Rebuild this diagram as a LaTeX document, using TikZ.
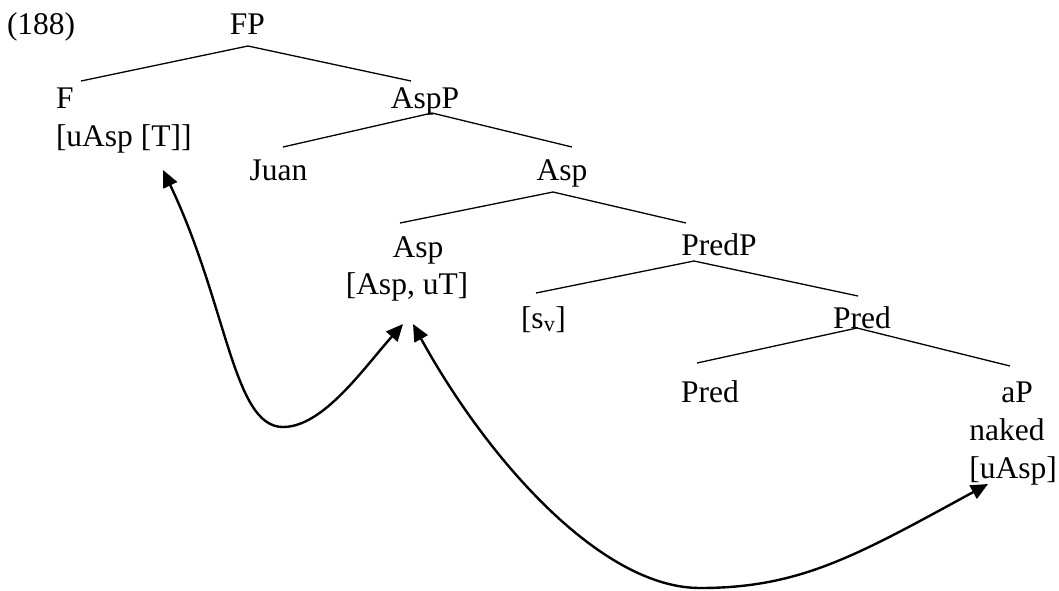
\documentclass[tikz,border=0pt]{standalone}
\usepackage{fontspec}
\setmainfont{Liberation Serif}
\usetikzlibrary{arrows.meta}
\begin{document}
\begin{tikzpicture}[x=1pt,y=-1pt,
  lbl/.style={inner sep=0pt, outer sep=0pt, anchor=base, font=\fontsize{31.5}{38}\selectfont},
  branch/.style={line width=1.3pt},
  move/.style={line width=2.4pt, {Triangle[length=17pt,width=15pt]}-{Triangle[length=17pt,width=15pt]}}]
\useasboundingbox (0,0) rectangle (1059,590);
% labels
\node[lbl, anchor=base west] (ex) at (7,34) {(188)};
\node[lbl] (FP) at (247.5,34) {FP};
\node[lbl, anchor=base west] (F) at (56,108) {F};
\node[lbl, anchor=base west] (Ff) at (56,146) {[uAsp [T]]};
\node[lbl] (AspP) at (425,108) {AspP};
\node[lbl] (Juan) at (278.5,180) {Juan};
\node[lbl] (Aspbar) at (562,180) {Asp};
\node[lbl] (Asp) at (418,257) {Asp};
\node[lbl] (Aspf) at (407,294) {[Asp, uT]};
\node[lbl] (PredP) at (719,255) {PredP};
\node[lbl, anchor=base west] (sv) at (521,328) {[s\textsubscript{v}]};
\node[lbl] (Predbar) at (862,328) {Pred};
\node[lbl] (Pred) at (710,402) {Pred};
\node[lbl] (aP) at (1017,402) {aP};
\node[lbl] (naked) at (1007,440) {naked};
\node[lbl] (aPf) at (1013,478) {[uAsp]};
% branch points
\coordinate (FPb) at (248,46);
\coordinate (Ft) at (81,81);
\coordinate (AspPt) at (411,81);
\coordinate (AspPb) at (432,113);
\coordinate (Juant) at (283,147);
\coordinate (Aspbart) at (572,147);
\coordinate (Aspbarb) at (553,192);
\coordinate (Aspt) at (400,223);
\coordinate (PredPt) at (686,223);
\coordinate (PredPb) at (694,261);
\coordinate (svt) at (536,293);
\coordinate (Predbart) at (858,296);
\coordinate (Predbarb) at (857,328);
\coordinate (Predt) at (697,363);
\coordinate (aPt) at (1010,366);
% arrow ends
\coordinate (Fend) at (163,170);
\coordinate (AspendL) at (403,324);
\coordinate (AspendR) at (413,324);
\coordinate (aPend) at (988,484);
% branches
\draw[branch] (Ft) -- (FPb) -- (AspPt);
\draw[branch] (Juant) -- (AspPb) -- (Aspbart);
\draw[branch] (Aspt) -- (Aspbarb) -- (PredPt);
\draw[branch] (svt) -- (PredPb) -- (Predbart);
\draw[branch] (Predt) -- (Predbarb) -- (aPt);
% movement arrows
\draw[move] (Fend) .. controls (227.5,305) and (233,427) .. (283,427)
  .. controls (323,427) and (363,369) .. (AspendL);
\draw[move] (AspendR) .. controls (486,457) and (600,588) .. (700,588)
  .. controls (800,588) and (856,556) .. (aPend);
\end{tikzpicture}
\end{document}
